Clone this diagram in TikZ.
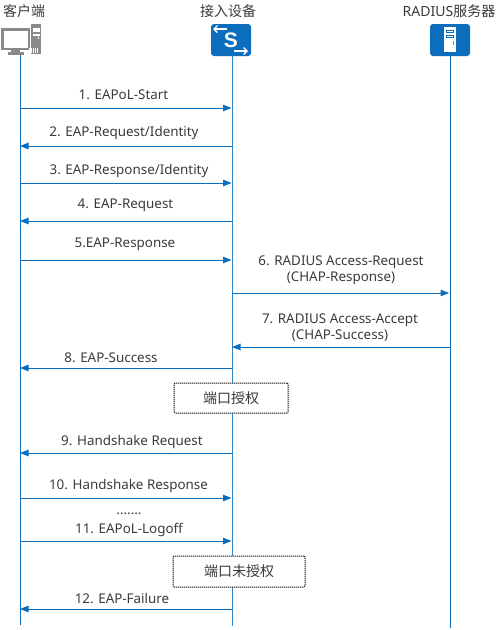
\documentclass[tikz,border=0pt]{standalone}
\usepackage{fontspec}
\setmainfont{Noto Sans}
\newfontfamily\cjk{Noto Sans CJK SC}
\newfontfamily\iconfont{Liberation Sans}
\usetikzlibrary{arrows.meta}
\definecolor{hwblue}{HTML}{0B6DBB}
\definecolor{life}{HTML}{2F86C8}
\definecolor{txt}{HTML}{3A3A3A}
\definecolor{pcgray}{HTML}{8A8A8A}
\tikzset{
  msg/.style={draw=hwblue,line width=1pt,-{Triangle[length=8.5pt,width=6.5pt,fill=hwblue]}},
  lifeline/.style={draw=life,line width=1pt},
  lbl/.style={font=\fontsize{13.4}{16.5}\selectfont,text=txt,inner sep=0pt,align=center},
  head/.style={font=\fontsize{14}{15}\selectfont,text=txt,inner sep=0pt},
  statebox/.style={draw=black!90,dash pattern=on 1.2pt off 0.8pt,line width=1pt,fill=white,rounded corners=1pt,font=\fontsize{14}{15}\selectfont\cjk,text=txt,inner sep=0pt,anchor=center},
  iconbox/.style={draw=none,fill=hwblue,rounded corners=3pt,minimum width=40pt,minimum height=32pt,inner sep=0pt}
}
\begin{document}
\begin{tikzpicture}[x=1pt,y=-1pt]
\useasboundingbox (0,0) rectangle (496,630);
% headers
\node[head] (hc) at (24,11) {\cjk 客户端};
\node[head] (hs) at (228,11) {\cjk 接入设备};
\node[head] (hr) at (449,11) {RADIUS\cjk 服务器};
% lifelines
\coordinate (pctop) at (20,55);
\coordinate (pcbot) at (20,625);
\node[iconbox] (sw) at (231,40) {};
\node[iconbox] (srv) at (450,40) {};
\coordinate (swbot) at (232,626);
\coordinate (srvbot) at (450,628);
\draw[lifeline,draw=hwblue] (pctop) -- (pcbot);
\draw[lifeline] (sw.south -| swbot) -- (swbot);
\draw[lifeline,draw=hwblue] (srv.south) -- (srvbot);
% PC icon
\fill[pcgray] (1,28) rectangle (30,50);
\fill[white] (3.5,30.5) rectangle (27.5,47.5);
\fill[pcgray] (11,50) rectangle (20,52);
\fill[pcgray] (8,52) rectangle (24,55);
\fill[pcgray] (31,24) rectangle (41,54);
\fill[white] (33,28) rectangle (39.5,32);
\fill[white] (33,34) rectangle (39.5,36);
\fill[white] (38,37) rectangle (39,39);
\foreach \x in {29,31,33,35,37}{\fill[white] (\x,48) rectangle +(1,5);}
% switch icon
\node[font=\fontsize{21}{21}\selectfont\iconfont\bfseries,text=white,inner sep=0pt] (swS) at (231,40) {S};
\draw[white,line width=1.4pt,-{Straight Barb[length=3.5pt,width=7pt]}] (227,29) -- (213,29);
\draw[white,line width=1.4pt,-{Straight Barb[length=3.5pt,width=7pt]}] (234,51) -- (248,51);
% server icon
\fill[white] (444,27) rectangle (456,52);
\fill[hwblue] (446,30) rectangle (454,33);
\fill[white] (446.7,30.7) rectangle (453.3,32.3);
\fill[hwblue] (446,35) rectangle (454,38);
\fill[white] (446.7,35.7) rectangle (453.3,37.3);
\fill[hwblue!70] (452.5,41) rectangle (454,45);
% row anchors
\foreach \n/\y in {1/108,2/146,3/183,4/221,5/260,8/368,9/453,10/498,11/541,12/609}{
  \coordinate (c\n) at (20,\y);
  \coordinate (s\n) at (231.5,\y);
}
\coordinate (s6) at (232,293); \coordinate (r6) at (449,293);
\coordinate (s7) at (232,347); \coordinate (r7) at (450,347);
% messages
\draw[msg] (c1) -- (s1);
\draw[msg] (s2) -- (c2);
\draw[msg] (c3) -- (s3);
\draw[msg] (s4) -- (c4);
\draw[msg] (c5) -- (s5);
\draw[msg] (s6) -- (r6);
\draw[msg] (r7) -- (s7);
\draw[msg] (s8) -- (c8);
\draw[msg] (s9) -- (c9);
\draw[msg] (c10) -- (s10);
\draw[msg] (c11) -- (s11);
\draw[msg] (s12) -- (c12);
% labels
\node[lbl] (l1) at (123.5,95) {1. EAPoL-Start};
\node[lbl] (l2) at (124,133) {2. EAP-Request/Identity};
\node[lbl] (l3) at (129,171) {3. EAP-Response/Identity};
\node[lbl] (l4) at (125.5,205) {4. EAP-Request};
\node[lbl] (l5) at (125,244) {5.EAP-Response};
\node[lbl] (l6) at (341,270.5) {6. RADIUS Access-Request\\(CHAP-Response)};
\node[lbl] (l7) at (340,327.5) {7. RADIUS Access-Accept\\(CHAP-Success)};
\node[lbl] (l8) at (111,358) {8. EAP-Success};
\node[lbl] (l9) at (132,442) {9. Handshake Request};
\node[lbl] (l10) at (128.5,486) {10. Handshake Response};
\node[lbl] (ld) at (129,514) {.......};
\node[lbl] (l11) at (129,530) {11. EAPoL-Logoff};
\node[lbl] (l12) at (122,598) {12. EAP-Failure};
% states
\node[statebox,minimum width=114pt,minimum height=30pt] (st1) at (231,398) {端口授权};
\node[statebox,minimum width=132pt,minimum height=31pt] (st2) at (239,571.5) {端口未授权};
\end{tikzpicture}
\end{document}
